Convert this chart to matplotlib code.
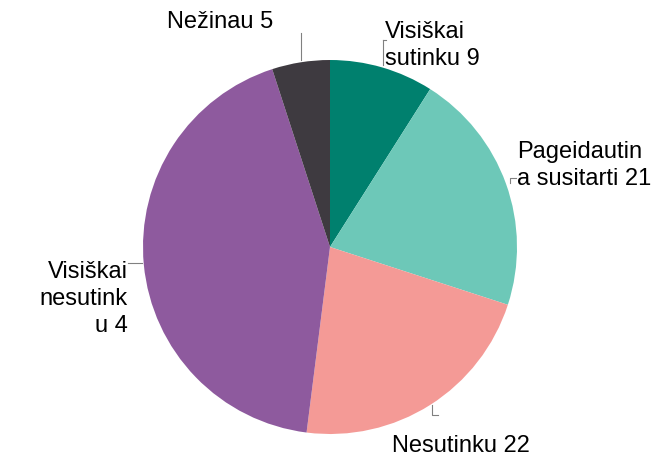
import matplotlib
matplotlib.use("Agg")
import matplotlib.pyplot as plt

plt.rcParams['font.family'] = ['Liberation Sans', 'DejaVu Sans']

# answers, clockwise from the top
labels = ["Visiškai\nsutinku 9", "Pageidautin\na susitarti 21", "Nesutinku 22",
          "Visiškai\nnesutink\nu 4", "Nežinau 5"]
values = [9, 21, 22, 43, 5]
colors = ["#00806e", "#6dc8b8", "#f49a96", "#8e5a9e", "#3e3a40"]

W, H = 654, 457
fig = plt.figure(figsize=(W / 100, H / 100), dpi=100)
ax = fig.add_axes([0, 0, 1, 1])

cx, cy, r = 330, H - 247, 187
ax.pie(values, colors=colors, startangle=90, counterclock=False,
       center=(cx, cy), radius=r, frame=True,
       wedgeprops=dict(linewidth=0))
ax.set_xlim(0, W)
ax.set_ylim(0, H)
ax.set_aspect("equal")
ax.axis("off")

fs = 17
ls = 1.3
lc = "#808080"

def t(y):
    return H - y

# label texts (pixel positions from the top-left)
ax.text(385, t(21), labels[0], ha="left", va="top", fontsize=fs, linespacing=ls)
ax.text(517, t(141), labels[1], ha="left", va="top", fontsize=fs, linespacing=ls)
ax.text(392, t(446), labels[2], ha="left", va="center", fontsize=fs, linespacing=ls)
ax.text(128, t(261), labels[3], ha="right", va="top", fontsize=fs, linespacing=ls)
ax.text(167, t(22), labels[4], ha="left", va="center", fontsize=fs, linespacing=ls)

# leader lines
ax.plot([383, 383], [t(40), t(65)], color=lc, lw=0.8)
ax.plot([383, 386], [t(40), t(40)], color=lc, lw=0.8)
ax.plot([510, 510, 516], [t(183), t(178), t(178)], color=lc, lw=0.8)
ax.plot([432, 432, 438], [t(405), t(415), t(415)], color=lc, lw=0.8)
ax.plot([128, 142], [t(263), t(263)], color=lc, lw=0.8)
ax.plot([301, 301], [t(33), t(60)], color=lc, lw=0.8)

fig.savefig("out.png", dpi=100)
